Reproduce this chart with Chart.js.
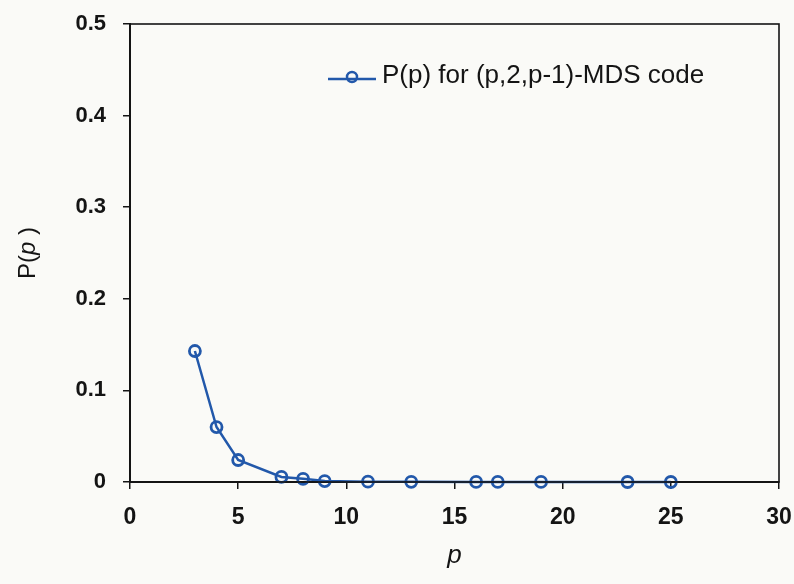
<!DOCTYPE html>
<html>
<head>
<meta charset="utf-8">
<script src="https://cdn.jsdelivr.net/npm/chart.js@4.4.1/dist/chart.umd.min.js"></script>
<style>
  html, body { margin: 0; padding: 0; background: #fafaf7; }
  #wrap { width: 794px; height: 584px; position: relative; }
</style>
</head>
<body>
<div id="wrap"><canvas id="chart" width="794" height="584"></canvas></div>
<script>
// Code length p (prime powers) and the probability P(p)
const pValues = [3, 4, 5, 7, 8, 9, 11, 13, 16, 17, 19, 23, 25];
const probValues = [0.143, 0.06, 0.024, 0.0055, 0.0035, 0.001, 0.0004, 0.0002, 0.0001, 0.0001, 0.0001, 0, 0];
const seriesLabel = 'P(p) for (p,2,p-1)-MDS code';
const xTitle = 'p';

const blue = '#2258aa';
const ink = '#141414';
const fontFamily = '"Liberation Sans", Arial, Helvetica, sans-serif';

// Box round the plot area
const frame = {
  id: 'frame',
  afterDraw(chart) {
    const { ctx, chartArea: a } = chart;
    ctx.save();
    ctx.strokeStyle = ink;
    ctx.lineWidth = 1.6;
    ctx.strokeRect(a.left, a.top, a.right - a.left, a.bottom - a.top);
    ctx.restore();
  }
};

// Vertical axis title with an italic p
const yTitle = {
  id: 'yTitle',
  afterDraw(chart) {
    const { ctx, chartArea: a } = chart;
    const cy = (a.top + a.bottom) / 2;
    const parts = [
      { t: 'P(', f: '24px ' + fontFamily },
      { t: 'p', f: 'italic 24px ' + fontFamily },
      { t: ' )', f: '24px ' + fontFamily }
    ];
    ctx.save();
    let w = 0;
    parts.forEach(s => { ctx.font = s.f; s.w = ctx.measureText(s.t).width; w += s.w; });
    ctx.translate(28, cy);
    ctx.rotate(-Math.PI / 2);
    ctx.fillStyle = ink;
    ctx.textBaseline = 'middle';
    let x = -w / 2;
    parts.forEach(s => { ctx.font = s.f; ctx.fillText(s.t, x, 0); x += s.w; });
    ctx.restore();
  }
};

// Legend entry inside the plot area
const legendBox = {
  id: 'legendBox',
  afterDraw(chart) {
    const { ctx, chartArea: a } = chart;
    const y = a.top + 52;
    const x0 = a.left + 198;
    ctx.save();
    ctx.strokeStyle = blue;
    ctx.lineWidth = 2.5;
    ctx.beginPath();
    ctx.moveTo(x0, y + 3);
    ctx.lineTo(x0 + 48, y + 3);
    ctx.stroke();
    ctx.beginPath();
    ctx.arc(x0 + 24, y + 1, 5, 0, Math.PI * 2);
    ctx.stroke();
    ctx.fillStyle = ink;
    ctx.font = '26px ' + fontFamily;
    ctx.textBaseline = 'middle';
    ctx.fillText(seriesLabel, x0 + 54, y);
    ctx.restore();
  }
};

new Chart(document.getElementById('chart'), {
  type: 'line',
  data: {
    datasets: [{
      label: seriesLabel,
      data: pValues.map((p, i) => ({ x: p, y: probValues[i] })),
      borderColor: blue,
      borderWidth: 2.5,
      backgroundColor: 'rgba(255,255,255,0)',
      pointRadius: 5.5,
      pointBorderWidth: 2.8,
      pointBorderColor: blue,
      pointBackgroundColor: 'rgba(255,255,255,0)',
      tension: 0,
      clip: false
    }]
  },
  options: {
    responsive: false,
    animation: false,
    layout: { padding: { top: 24, right: 15, bottom: 0, left: 0 } },
    plugins: {
      legend: { display: false },
      tooltip: { enabled: false }
    },
    scales: {
      x: {
        type: 'linear',
        min: 0,
        max: 30,
        afterFit(scale) {
          scale.height = 102;
          scale.paddingLeft = 0;
          scale.paddingRight = 0;
        },
        ticks: {
          stepSize: 5,
          color: ink,
          padding: 15,
          maxRotation: 0,
          font: { family: fontFamily, size: 23, weight: 'bold' }
        },
        grid: { display: true, drawOnChartArea: false, drawTicks: true, tickLength: 7, color: ink, lineWidth: 1.5 },
        border: { display: true, color: ink, width: 2 },
        title: {
          display: true,
          text: xTitle,
          color: ink,
          padding: { top: 0, bottom: 13 },
          font: { family: fontFamily, size: 26, style: 'italic' }
        }
      },
      y: {
        type: 'linear',
        min: 0,
        max: 0.5,
        afterFit(scale) {
          scale.width = 130;
          scale.paddingTop = 0;
          scale.paddingBottom = 0;
        },
        ticks: {
          stepSize: 0.1,
          color: ink,
          padding: 17,
          font: { family: fontFamily, size: 22, weight: 'bold' }
        },
        grid: { display: true, drawOnChartArea: false, drawTicks: true, tickLength: 7, color: ink, lineWidth: 1.5 },
        border: { display: true, color: ink, width: 2 }
      }
    }
  },
  plugins: [frame, yTitle, legendBox]
});
</script>
</body>
</html>
